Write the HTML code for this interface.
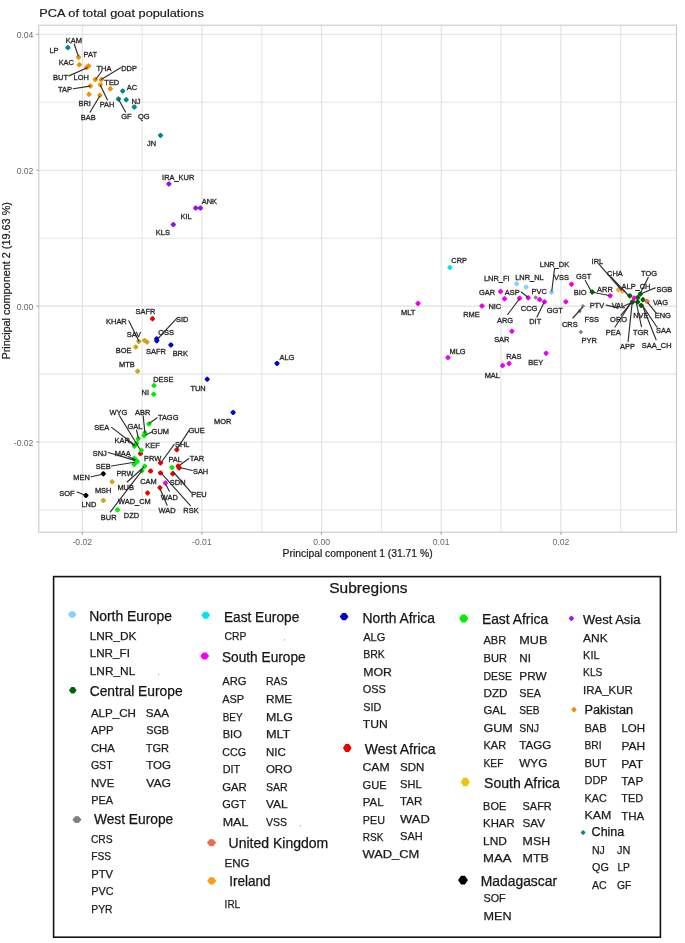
<!DOCTYPE html>
<html lang="en"><head><meta charset="utf-8"><title>PCA of total goat populations</title>
<style>html,body{margin:0;padding:0;background:#fff}body{width:685px;height:943px;overflow:hidden}svg{display:block;filter:blur(0.42px)}</style>
</head><body>
<svg width="685" height="943" viewBox="0 0 685 943">
<rect width="685" height="943" fill="#fff"/>
<g stroke="#e1e1e1" stroke-width="1.1" fill="none">
<path d="M142.1 25.2V532.2" stroke="#e6e6e6"/>
<path d="M261.8 25.2V532.2" stroke="#e6e6e6"/>
<path d="M381.4 25.2V532.2" stroke="#e6e6e6"/>
<path d="M501.0 25.2V532.2" stroke="#e6e6e6"/>
<path d="M620.7 25.2V532.2" stroke="#e6e6e6"/>
<path d="M38.8 510.0H676.5" stroke="#e6e6e6"/>
<path d="M38.8 374.1H676.5" stroke="#e6e6e6"/>
<path d="M38.8 238.2H676.5" stroke="#e6e6e6"/>
<path d="M38.8 102.3H676.5" stroke="#e6e6e6"/>
<path d="M82.3 25.2V532.2"/>
<path d="M201.9 25.2V532.2"/>
<path d="M321.6 25.2V532.2"/>
<path d="M441.2 25.2V532.2"/>
<path d="M560.9 25.2V532.2"/>
<path d="M38.8 442.0H676.5"/>
<path d="M38.8 306.1H676.5"/>
<path d="M38.8 170.2H676.5"/>
<path d="M38.8 34.3H676.5"/>
</g>
<rect x="38.8" y="25.2" width="637.7" height="507.00000000000006" fill="none" stroke="#c9c9c9" stroke-width="1.1"/>
<g stroke="#8a8a8a" stroke-width="0.8">
<path d="M82.3 532.2v2.6"/>
<path d="M201.9 532.2v2.6"/>
<path d="M321.6 532.2v2.6"/>
<path d="M441.2 532.2v2.6"/>
<path d="M560.9 532.2v2.6"/>
<path d="M38.8 442.0h-2.6"/>
<path d="M38.8 306.1h-2.6"/>
<path d="M38.8 170.2h-2.6"/>
<path d="M38.8 34.3h-2.6"/>
</g>
<g font-family="'Liberation Sans',sans-serif" font-size="8.6" fill="#666">
<text x="82.3" y="545.2" text-anchor="middle">-0.02</text>
<text x="201.9" y="545.2" text-anchor="middle">-0.01</text>
<text x="321.6" y="545.2" text-anchor="middle">0.00</text>
<text x="441.2" y="545.2" text-anchor="middle">0.01</text>
<text x="560.9" y="545.2" text-anchor="middle">0.02</text>
<text x="33.4" y="446.0" text-anchor="end">-0.02</text>
<text x="33.4" y="310.1" text-anchor="end">0.00</text>
<text x="33.4" y="174.2" text-anchor="end">0.02</text>
<text x="33.4" y="38.3" text-anchor="end">0.04</text>
</g>
<g font-family="'Liberation Sans',sans-serif" fill="#1a1a1a" stroke="#1a1a1a" stroke-width="0.2">
<text x="39.3" y="17.2" font-size="11.6" textLength="164.5" lengthAdjust="spacingAndGlyphs">PCA of total goat populations</text>
<text x="282.6" y="557.2" font-size="10" textLength="150" lengthAdjust="spacingAndGlyphs">Principal component 1 (31.71 %)</text>
<text transform="translate(9.6,359.6) rotate(-90)" font-size="10" textLength="157.5" lengthAdjust="spacingAndGlyphs">Principal component 2 (19.63 %)</text>
</g>
<g>
<path d="M66.45 47.6L67.9 46.15L69.35 47.6L67.9 49.05Z" fill="#00868B" stroke="#00868B" stroke-width="2.3" stroke-linejoin="round"/>
<path d="M121.25 91L122.7 89.55L124.15 91L122.7 92.45Z" fill="#00868B" stroke="#00868B" stroke-width="2.3" stroke-linejoin="round"/>
<path d="M124.75 99.7L126.2 98.25L127.65 99.7L126.2 101.15Z" fill="#00868B" stroke="#00868B" stroke-width="2.3" stroke-linejoin="round"/>
<path d="M117.05 98.9L118.5 97.45L119.95 98.9L118.5 100.35Z" fill="#00868B" stroke="#00868B" stroke-width="2.3" stroke-linejoin="round"/>
<path d="M132.85 107.1L134.3 105.65L135.75 107.1L134.3 108.55Z" fill="#00868B" stroke="#00868B" stroke-width="2.3" stroke-linejoin="round"/>
<path d="M159.05 135.4L160.5 133.95L161.95 135.4L160.5 136.85Z" fill="#00868B" stroke="#00868B" stroke-width="2.3" stroke-linejoin="round"/>
<path d="M77.15 57.2L78.6 55.75L80.05 57.2L78.6 58.65Z" fill="#F59000" stroke="#F59000" stroke-width="2.3" stroke-linejoin="round"/>
<path d="M77.85 64.7L79.3 63.25L80.75 64.7L79.3 66.15Z" fill="#F59000" stroke="#F59000" stroke-width="2.3" stroke-linejoin="round"/>
<path d="M85.15 67.6L86.6 66.15L88.05 67.6L86.6 69.05Z" fill="#F59000" stroke="#F59000" stroke-width="2.3" stroke-linejoin="round"/>
<path d="M87.15 65.9L88.6 64.45L90.05 65.9L88.6 67.35Z" fill="#F59000" stroke="#F59000" stroke-width="2.3" stroke-linejoin="round"/>
<path d="M93.75 79.6L95.2 78.15L96.65 79.6L95.2 81.05Z" fill="#F59000" stroke="#F59000" stroke-width="2.3" stroke-linejoin="round"/>
<path d="M99.85 79.6L101.3 78.15L102.75 79.6L101.3 81.05Z" fill="#F59000" stroke="#F59000" stroke-width="2.3" stroke-linejoin="round"/>
<path d="M98.95 84.8L100.4 83.35L101.85 84.8L100.4 86.25Z" fill="#F59000" stroke="#F59000" stroke-width="2.3" stroke-linejoin="round"/>
<path d="M108.95 88.7L110.4 87.25L111.85 88.7L110.4 90.15Z" fill="#F59000" stroke="#F59000" stroke-width="2.3" stroke-linejoin="round"/>
<path d="M88.95 86L90.4 84.55L91.85 86L90.4 87.45Z" fill="#F59000" stroke="#F59000" stroke-width="2.3" stroke-linejoin="round"/>
<path d="M87.55 94.3L89 92.85L90.45 94.3L89 95.75Z" fill="#F59000" stroke="#F59000" stroke-width="2.3" stroke-linejoin="round"/>
<path d="M98.45 95.3L99.9 93.85L101.35 95.3L99.9 96.75Z" fill="#F59000" stroke="#F59000" stroke-width="2.3" stroke-linejoin="round"/>
<path d="M167.45 183.9L168.9 182.45L170.35 183.9L168.9 185.35Z" fill="#8E14EE" stroke="#8E14EE" stroke-width="2.3" stroke-linejoin="round"/>
<path d="M194.25 208.1L195.7 206.65L197.15 208.1L195.7 209.55Z" fill="#8E14EE" stroke="#8E14EE" stroke-width="2.3" stroke-linejoin="round"/>
<path d="M198.95 208.1L200.4 206.65L201.85 208.1L200.4 209.55Z" fill="#8E14EE" stroke="#8E14EE" stroke-width="2.3" stroke-linejoin="round"/>
<path d="M171.85 224.6L173.3 223.15L174.75 224.6L173.3 226.05Z" fill="#8E14EE" stroke="#8E14EE" stroke-width="2.3" stroke-linejoin="round"/>
<path d="M151.05 318.7L152.5 317.25L153.95 318.7L152.5 320.15Z" fill="#EE0000" stroke="#EE0000" stroke-width="2.3" stroke-linejoin="round"/>
<path d="M137.35 341.4L138.8 339.95L140.25 341.4L138.8 342.85Z" fill="#CDA61A" stroke="#CDA61A" stroke-width="2.3" stroke-linejoin="round"/>
<path d="M143.15 340.6L144.6 339.15L146.05 340.6L144.6 342.05Z" fill="#CDA61A" stroke="#CDA61A" stroke-width="2.3" stroke-linejoin="round"/>
<path d="M145.55 342L147 340.55L148.45 342L147 343.45Z" fill="#CDA61A" stroke="#CDA61A" stroke-width="2.3" stroke-linejoin="round"/>
<path d="M134.35 347L135.8 345.55L137.25 347L135.8 348.45Z" fill="#CDA61A" stroke="#CDA61A" stroke-width="2.3" stroke-linejoin="round"/>
<path d="M136.15 371.2L137.6 369.75L139.05 371.2L137.6 372.65Z" fill="#CDA61A" stroke="#CDA61A" stroke-width="2.3" stroke-linejoin="round"/>
<path d="M110.65 481.7L112.1 480.25L113.55 481.7L112.1 483.15Z" fill="#CDA61A" stroke="#CDA61A" stroke-width="2.3" stroke-linejoin="round"/>
<path d="M101.95 500.4L103.4 498.95L104.85 500.4L103.4 501.85Z" fill="#CDA61A" stroke="#CDA61A" stroke-width="2.3" stroke-linejoin="round"/>
<path d="M155.25 338.8L156.7 337.35L158.15 338.8L156.7 340.25Z" fill="#0000CD" stroke="#0000CD" stroke-width="2.3" stroke-linejoin="round"/>
<path d="M155.35 340.8L156.8 339.35L158.25 340.8L156.8 342.25Z" fill="#0000CD" stroke="#0000CD" stroke-width="2.3" stroke-linejoin="round"/>
<path d="M169.45 344.9L170.9 343.45L172.35 344.9L170.9 346.35Z" fill="#0000CD" stroke="#0000CD" stroke-width="2.3" stroke-linejoin="round"/>
<path d="M275.55 363.4L277 361.95L278.45 363.4L277 364.85Z" fill="#0000CD" stroke="#0000CD" stroke-width="2.3" stroke-linejoin="round"/>
<path d="M205.75 379.2L207.2 377.75L208.65 379.2L207.2 380.65Z" fill="#0000CD" stroke="#0000CD" stroke-width="2.3" stroke-linejoin="round"/>
<path d="M231.65 412.4L233.1 410.95L234.55 412.4L233.1 413.85Z" fill="#0000CD" stroke="#0000CD" stroke-width="2.3" stroke-linejoin="round"/>
<path d="M152.55 385.6L154 384.15L155.45 385.6L154 387.05Z" fill="#00EE00" stroke="#00EE00" stroke-width="2.3" stroke-linejoin="round"/>
<path d="M152.25 394.3L153.7 392.85L155.15 394.3L153.7 395.75Z" fill="#00EE00" stroke="#00EE00" stroke-width="2.3" stroke-linejoin="round"/>
<path d="M147.55 423.9L149 422.45L150.45 423.9L149 425.35Z" fill="#00EE00" stroke="#00EE00" stroke-width="2.3" stroke-linejoin="round"/>
<path d="M143.45 432.7L144.9 431.25L146.35 432.7L144.9 434.15Z" fill="#00EE00" stroke="#00EE00" stroke-width="2.3" stroke-linejoin="round"/>
<path d="M142.65 435.6L144.1 434.15L145.55 435.6L144.1 437.05Z" fill="#00EE00" stroke="#00EE00" stroke-width="2.3" stroke-linejoin="round"/>
<path d="M136.85 438.8L138.3 437.35L139.75 438.8L138.3 440.25Z" fill="#00EE00" stroke="#00EE00" stroke-width="2.3" stroke-linejoin="round"/>
<path d="M135.05 443.2L136.5 441.75L137.95 443.2L136.5 444.65Z" fill="#00EE00" stroke="#00EE00" stroke-width="2.3" stroke-linejoin="round"/>
<path d="M132.95 446.2L134.4 444.75L135.85 446.2L134.4 447.65Z" fill="#00EE00" stroke="#00EE00" stroke-width="2.3" stroke-linejoin="round"/>
<path d="M139.05 453.6L140.5 452.15L141.95 453.6L140.5 455.05Z" fill="#EE0000" stroke="#EE0000" stroke-width="2.3" stroke-linejoin="round"/>
<path d="M139.85 450.4L141.3 448.95L142.75 450.4L141.3 451.85Z" fill="#00EE00" stroke="#00EE00" stroke-width="2.3" stroke-linejoin="round"/>
<path d="M132.75 458.4L134.2 456.95L135.65 458.4L134.2 459.85Z" fill="#00EE00" stroke="#00EE00" stroke-width="2.3" stroke-linejoin="round"/>
<path d="M135.85 461.5L137.3 460.05L138.75 461.5L137.3 462.95Z" fill="#00EE00" stroke="#00EE00" stroke-width="2.3" stroke-linejoin="round"/>
<path d="M132.75 464.4L134.2 462.95L135.65 464.4L134.2 465.85Z" fill="#00EE00" stroke="#00EE00" stroke-width="2.3" stroke-linejoin="round"/>
<path d="M134.35 460L135.8 458.55L137.25 460L135.8 461.45Z" fill="#00EE00" stroke="#00EE00" stroke-width="2.3" stroke-linejoin="round"/>
<path d="M143.25 466.2L144.7 464.75L146.15 466.2L144.7 467.65Z" fill="#00EE00" stroke="#00EE00" stroke-width="2.3" stroke-linejoin="round"/>
<path d="M140.65 470.5L142.1 469.05L143.55 470.5L142.1 471.95Z" fill="#00EE00" stroke="#00EE00" stroke-width="2.3" stroke-linejoin="round"/>
<path d="M116.05 509.7L117.5 508.25L118.95 509.7L117.5 511.15Z" fill="#00EE00" stroke="#00EE00" stroke-width="2.3" stroke-linejoin="round"/>
<path d="M175.35 449.7L176.8 448.25L178.25 449.7L176.8 451.15Z" fill="#EE0000" stroke="#EE0000" stroke-width="2.3" stroke-linejoin="round"/>
<path d="M159.05 462.9L160.5 461.45L161.95 462.9L160.5 464.35Z" fill="#EE0000" stroke="#EE0000" stroke-width="2.3" stroke-linejoin="round"/>
<path d="M149.15 471.1L150.6 469.65L152.05 471.1L150.6 472.55Z" fill="#EE0000" stroke="#EE0000" stroke-width="2.3" stroke-linejoin="round"/>
<path d="M159.05 472.9L160.5 471.45L161.95 472.9L160.5 474.35Z" fill="#EE0000" stroke="#EE0000" stroke-width="2.3" stroke-linejoin="round"/>
<path d="M171.25 473.7L172.7 472.25L174.15 473.7L172.7 475.15Z" fill="#EE0000" stroke="#EE0000" stroke-width="2.3" stroke-linejoin="round"/>
<path d="M176.75 466.1L178.2 464.65L179.65 466.1L178.2 467.55Z" fill="#EE0000" stroke="#EE0000" stroke-width="2.3" stroke-linejoin="round"/>
<path d="M177.65 467.9L179.1 466.45L180.55 467.9L179.1 469.35Z" fill="#EE0000" stroke="#EE0000" stroke-width="2.3" stroke-linejoin="round"/>
<path d="M158.45 487.7L159.9 486.25L161.35 487.7L159.9 489.15Z" fill="#EE0000" stroke="#EE0000" stroke-width="2.3" stroke-linejoin="round"/>
<path d="M146.15 493L147.6 491.55L149.05 493L147.6 494.45Z" fill="#EE0000" stroke="#EE0000" stroke-width="2.3" stroke-linejoin="round"/>
<path d="M170.55 467.4L172 465.95L173.45 467.4L172 468.85Z" fill="#00EE00" stroke="#00EE00" stroke-width="2.3" stroke-linejoin="round"/>
<path d="M163.95 483L165.4 481.55L166.85 483L165.4 484.45Z" fill="#F000F0" stroke="#F000F0" stroke-width="2.3" stroke-linejoin="round"/>
<path d="M101.85 473.8L103.3 472.35L104.75 473.8L103.3 475.25Z" fill="#000000" stroke="#000000" stroke-width="2.3" stroke-linejoin="round"/>
<path d="M84.45 495.4L85.9 493.95L87.35 495.4L85.9 496.85Z" fill="#000000" stroke="#000000" stroke-width="2.3" stroke-linejoin="round"/>
<path d="M448.45 267.5L449.9 266.05L451.35 267.5L449.9 268.95Z" fill="#00E5EE" stroke="#00E5EE" stroke-width="2.3" stroke-linejoin="round"/>
<path d="M416.55 303.4L418 301.95L419.45 303.4L418 304.85Z" fill="#F000F0" stroke="#F000F0" stroke-width="2.3" stroke-linejoin="round"/>
<path d="M499.15 291.5L500.6 290.05L502.05 291.5L500.6 292.95Z" fill="#F000F0" stroke="#F000F0" stroke-width="2.3" stroke-linejoin="round"/>
<path d="M503.05 298.7L504.5 297.25L505.95 298.7L504.5 300.15Z" fill="#F000F0" stroke="#F000F0" stroke-width="2.3" stroke-linejoin="round"/>
<path d="M480.55 305.9L482 304.45L483.45 305.9L482 307.35Z" fill="#F000F0" stroke="#F000F0" stroke-width="2.3" stroke-linejoin="round"/>
<path d="M518.05 298.3L519.5 296.85L520.95 298.3L519.5 299.75Z" fill="#F000F0" stroke="#F000F0" stroke-width="2.3" stroke-linejoin="round"/>
<path d="M526.75 297.8L528.2 296.35L529.65 297.8L528.2 299.25Z" fill="#F000F0" stroke="#F000F0" stroke-width="2.3" stroke-linejoin="round"/>
<path d="M538.15 299.6L539.6 298.15L541.05 299.6L539.6 301.05Z" fill="#F000F0" stroke="#F000F0" stroke-width="2.3" stroke-linejoin="round"/>
<path d="M543.05 301.8L544.5 300.35L545.95 301.8L544.5 303.25Z" fill="#F000F0" stroke="#F000F0" stroke-width="2.3" stroke-linejoin="round"/>
<path d="M564.35 301.8L565.8 300.35L567.25 301.8L565.8 303.25Z" fill="#F000F0" stroke="#F000F0" stroke-width="2.3" stroke-linejoin="round"/>
<path d="M570.05 284.3L571.5 282.85L572.95 284.3L571.5 285.75Z" fill="#F000F0" stroke="#F000F0" stroke-width="2.3" stroke-linejoin="round"/>
<path d="M510.45 331.2L511.9 329.75L513.35 331.2L511.9 332.65Z" fill="#F000F0" stroke="#F000F0" stroke-width="2.3" stroke-linejoin="round"/>
<path d="M446.55 357.6L448 356.15L449.45 357.6L448 359.05Z" fill="#F000F0" stroke="#F000F0" stroke-width="2.3" stroke-linejoin="round"/>
<path d="M507.65 363.5L509.1 362.05L510.55 363.5L509.1 364.95Z" fill="#F000F0" stroke="#F000F0" stroke-width="2.3" stroke-linejoin="round"/>
<path d="M501.15 365.6L502.6 364.15L504.05 365.6L502.6 367.05Z" fill="#F000F0" stroke="#F000F0" stroke-width="2.3" stroke-linejoin="round"/>
<path d="M544.65 353.3L546.1 351.85L547.55 353.3L546.1 354.75Z" fill="#F000F0" stroke="#F000F0" stroke-width="2.3" stroke-linejoin="round"/>
<path d="M608.75 295.8L610.2 294.35L611.65 295.8L610.2 297.25Z" fill="#F000F0" stroke="#F000F0" stroke-width="2.3" stroke-linejoin="round"/>
<path d="M515.15 283.8L516.6 282.35L518.05 283.8L516.6 285.25Z" fill="#87CEFA" stroke="#87CEFA" stroke-width="2.3" stroke-linejoin="round"/>
<path d="M524.65 287L526.1 285.55L527.55 287L526.1 288.45Z" fill="#87CEFA" stroke="#87CEFA" stroke-width="2.3" stroke-linejoin="round"/>
<path d="M550.05 292.2L551.5 290.75L552.95 292.2L551.5 293.65Z" fill="#87CEFA" stroke="#87CEFA" stroke-width="2.3" stroke-linejoin="round"/>
<path d="M534.70 297.5L535.7 296.50L536.70 297.5L535.7 298.50Z" fill="#7F7F7F" stroke="#7F7F7F" stroke-width="1.8" stroke-linejoin="round"/>
<path d="M581.90 306.2L582.9 305.20L583.90 306.2L582.9 307.20Z" fill="#7F7F7F" stroke="#7F7F7F" stroke-width="1.8" stroke-linejoin="round"/>
<path d="M578.70 311.2L579.7 310.20L580.70 311.2L579.7 312.20Z" fill="#7F7F7F" stroke="#7F7F7F" stroke-width="1.8" stroke-linejoin="round"/>
<path d="M579.90 332L580.9 331.00L581.90 332L580.9 333.00Z" fill="#7F7F7F" stroke="#7F7F7F" stroke-width="1.8" stroke-linejoin="round"/>
<path d="M616.60 307.3L617.6 306.30L618.60 307.3L617.6 308.30Z" fill="#7F7F7F" stroke="#7F7F7F" stroke-width="1.8" stroke-linejoin="round"/>
<path d="M616.95 289.7L618.4 288.25L619.85 289.7L618.4 291.15Z" fill="#FFA245" stroke="#FFA245" stroke-width="2.3" stroke-linejoin="round"/>
<path d="M621.05 290.9L622.5 289.45L623.95 290.9L622.5 292.35Z" fill="#FFA245" stroke="#FFA245" stroke-width="2.3" stroke-linejoin="round"/>
<path d="M590.75 292L592.2 290.55L593.65 292L592.2 293.45Z" fill="#006400" stroke="#006400" stroke-width="2.3" stroke-linejoin="round"/>
<path d="M628.35 295.8L629.8 294.35L631.25 295.8L629.8 297.25Z" fill="#006400" stroke="#006400" stroke-width="2.3" stroke-linejoin="round"/>
<path d="M638.85 294.1L640.3 292.65L641.75 294.1L640.3 295.55Z" fill="#006400" stroke="#006400" stroke-width="2.3" stroke-linejoin="round"/>
<path d="M636.25 297.6L637.7 296.15L639.15 297.6L637.7 299.05Z" fill="#006400" stroke="#006400" stroke-width="2.3" stroke-linejoin="round"/>
<path d="M641.55 299.7L643 298.25L644.45 299.7L643 301.15Z" fill="#006400" stroke="#006400" stroke-width="2.3" stroke-linejoin="round"/>
<path d="M636.25 301.9L637.7 300.45L639.15 301.9L637.7 303.35Z" fill="#006400" stroke="#006400" stroke-width="2.3" stroke-linejoin="round"/>
<path d="M639.75 305.4L641.2 303.95L642.65 305.4L641.2 306.85Z" fill="#006400" stroke="#006400" stroke-width="2.3" stroke-linejoin="round"/>
<path d="M631.05 301.9L632.5 300.45L633.95 301.9L632.5 303.35Z" fill="#006400" stroke="#006400" stroke-width="2.3" stroke-linejoin="round"/>
<path d="M632.75 298.1L634.2 296.65L635.65 298.1L634.2 299.55Z" fill="#F000F0" stroke="#F000F0" stroke-width="2.3" stroke-linejoin="round"/>
<path d="M645.55 301.4L647 299.95L648.45 301.4L647 302.85Z" fill="#EE6A50" stroke="#EE6A50" stroke-width="2.3" stroke-linejoin="round"/>
</g>
<g stroke="#2e2e2e" stroke-width="1.15" stroke-linecap="round">
<path d="M74.2 44L78.3 56"/>
<path d="M68.9 75.9L87.3 67.7"/>
<path d="M101.5 71.5L96 79"/>
<path d="M120.6 67.7L101.6 79.2"/>
<path d="M73.3 88.7L89.9 86.1"/>
<path d="M90 112.3L99.6 96.2"/>
<path d="M107.4 100L100.5 85.4"/>
<path d="M125.5 112L118.7 99.4"/>
<path d="M128.8 320.8L138.8 340.9"/>
<path d="M176.5 318.7L158 338.5"/>
<path d="M157.2 417.8L149.7 423"/>
<path d="M143.2 416L144.9 432.5"/>
<path d="M119.5 415.7L139.5 448.5"/>
<path d="M136.5 430L138.4 438"/>
<path d="M152.5 431.8L145.5 435"/>
<path d="M111.6 427.4L134.9 445.2"/>
<path d="M128.3 440.9L134.4 445.8"/>
<path d="M108.4 452.5L134.6 460.4"/>
<path d="M128 456.5L135 459.8"/>
<path d="M111.3 466L134.6 462.2"/>
<path d="M174.2 444.4L161.5 462"/>
<path d="M188.7 430.9L177.2 448.8"/>
<path d="M188.9 458.5L180.3 464.8"/>
<path d="M192.2 470.5L180.8 467.7"/>
<path d="M91.2 476.8L102.6 474.2"/>
<path d="M77.2 492L85 495.2"/>
<path d="M127.1 482L143.7 467.2"/>
<path d="M110.4 511.8L142 470.7"/>
<path d="M191.3 492.6L172.9 471.5"/>
<path d="M190.4 505.7L161.5 473.3"/>
<path d="M165.9 484.7L169.4 491.2"/>
<path d="M167.1 505.2L160.1 489"/>
<path d="M507.7 314.5L519.3 299"/>
<path d="M554.5 268.9L551.8 291"/>
<path d="M585.3 280.4L591 291"/>
<path d="M521.2 292L527.5 297"/>
<path d="M536.9 317.1L543.9 302.7"/>
<path d="M572.9 318L582.3 307.5"/>
<path d="M599.2 264.3L621.5 290"/>
<path d="M611 277L628.5 295.5"/>
<path d="M648.2 277.4L640.3 293.2"/>
<path d="M655.2 287.9L642.1 293.2"/>
<path d="M593 292.3L609 295.5"/>
<path d="M656 312.8L648 302.8"/>
<path d="M606.2 305.1L617.3 307.6"/>
<path d="M622.8 306.5L631.8 302.5"/>
<path d="M621.1 315.1L631 302.8"/>
<path d="M615 327L631.6 302"/>
<path d="M641.5 326.6L636 301.5"/>
<path d="M657 327.3L642 304.8"/>
<path d="M628.1 341.5L632.1 303.1"/>
<path d="M656.1 339.8L643 307"/>
</g>
<g font-family="'Liberation Sans',sans-serif" font-size="7.45" fill="#262626" text-anchor="middle" stroke="#262626" stroke-width="0.3">
<text x="54" y="52.5">LP</text>
<text x="73.8" y="43.2">KAM</text>
<text x="90.3" y="57.2">PAT</text>
<text x="66.3" y="65.1">KAC</text>
<text x="60.5" y="79.7">BUT</text>
<text x="81.2" y="79.7">LOH</text>
<text x="104" y="70.9">THA</text>
<text x="129" y="70.9">DDP</text>
<text x="111.8" y="84.7">TED</text>
<text x="65" y="91.9">TAP</text>
<text x="84.7" y="106.3">BRI</text>
<text x="88.2" y="119.7">BAB</text>
<text x="107" y="107.2">PAH</text>
<text x="132" y="90.0">AC</text>
<text x="136" y="103.7">NJ</text>
<text x="126.4" y="119.4">GF</text>
<text x="143.7" y="118.5">QG</text>
<text x="151.5" y="145.8">JN</text>
<text x="178.2" y="180.0">IRA_KUR</text>
<text x="209.4" y="204.2">ANK</text>
<text x="186.1" y="219.4">KIL</text>
<text x="162.9" y="235.3">KLS</text>
<text x="145.5" y="314.3">SAFR</text>
<text x="116.4" y="323.5">KHAR</text>
<text x="182.2" y="321.7">SID</text>
<text x="133.9" y="336.8">SAV</text>
<text x="166" y="334.5">OSS</text>
<text x="180.3" y="355.9">BRK</text>
<text x="123.6" y="353.2">BOE</text>
<text x="156" y="353.8">SAFR</text>
<text x="126.9" y="367.4">MTB</text>
<text x="163.3" y="381.8">DESE</text>
<text x="198.1" y="391.0">TUN</text>
<text x="145.3" y="394.6">NI</text>
<text x="286.9" y="359.6">ALG</text>
<text x="222.8" y="423.6">MOR</text>
<text x="168.2" y="419.6">TAGG</text>
<text x="142.7" y="414.7">ABR</text>
<text x="118.3" y="415.2">WYG</text>
<text x="134.9" y="429.2">GAL</text>
<text x="160.3" y="434.1">GUM</text>
<text x="101.7" y="430.1">SEA</text>
<text x="122.2" y="443.3">KAR</text>
<text x="152.5" y="448.1">KEF</text>
<text x="99.8" y="455.5">SNJ</text>
<text x="122.7" y="456.4">MAA</text>
<text x="103.2" y="469.3">SEB</text>
<text x="152.6" y="461.4">PRW</text>
<text x="125" y="475.6">PRW</text>
<text x="182.2" y="446.7">SHL</text>
<text x="196.6" y="433.3">GUE</text>
<text x="175.2" y="461.9">PAL</text>
<text x="197" y="460.5">TAR</text>
<text x="200.6" y="473.7">SAH</text>
<text x="177.7" y="484.5">SDN</text>
<text x="148.4" y="484.2">CAM</text>
<text x="125.7" y="489.7">MUB</text>
<text x="81.5" y="480.0">MEN</text>
<text x="67" y="495.6">SOF</text>
<text x="103.2" y="493.4">MSH</text>
<text x="88.9" y="507.2">LND</text>
<text x="108.7" y="520.3">BUR</text>
<text x="131.5" y="518.0">DZD</text>
<text x="134.4" y="503.5">WAD_CM</text>
<text x="198.9" y="497.4">PEU</text>
<text x="191" y="512.8">RSK</text>
<text x="169.4" y="499.6">WAD</text>
<text x="167.1" y="513.3">WAD</text>
<text x="459.2" y="262.5">CRP</text>
<text x="408.2" y="314.5">MLT</text>
<text x="496.7" y="281.2">LNR_FI</text>
<text x="487" y="294.7">GAR</text>
<text x="512.2" y="294.7">ASP</text>
<text x="494.8" y="308.9">NIC</text>
<text x="471.4" y="316.8">RME</text>
<text x="505" y="323.2">ARG</text>
<text x="501.8" y="342.2">SAR</text>
<text x="554.5" y="267.2">LNR_DK</text>
<text x="529.4" y="280.0">LNR_NL</text>
<text x="561.5" y="280.4">VSS</text>
<text x="583.7" y="278.7">GST</text>
<text x="539.2" y="293.5">PVC</text>
<text x="580.2" y="294.7">BIO</text>
<text x="529.1" y="310.5">CCG</text>
<text x="554.8" y="313.3">GGT</text>
<text x="535.2" y="324.4">DIT</text>
<text x="569.8" y="326.7">CRS</text>
<text x="596.9" y="308.1">PTV</text>
<text x="591.8" y="321.8">FSS</text>
<text x="589.2" y="343.0">PYR</text>
<text x="457.6" y="353.6">MLG</text>
<text x="513.8" y="359.3">RAS</text>
<text x="492.3" y="377.5">MAL</text>
<text x="535.7" y="364.8">BEY</text>
<text x="597.4" y="263.8">IRL</text>
<text x="614.9" y="276.1">CHA</text>
<text x="649.1" y="276.1">TOG</text>
<text x="636" y="289.1">ALP_CH</text>
<text x="664.3" y="291.5">SGB</text>
<text x="604.9" y="292.0">ARR</text>
<text x="660.5" y="304.6">VAG</text>
<text x="662.8" y="318.4">ENG</text>
<text x="618.4" y="307.8">VAL</text>
<text x="618.6" y="321.5">ORO</text>
<text x="613.2" y="335.1">PEA</text>
<text x="640.8" y="317.5">NVE</text>
<text x="640.8" y="334.6">TGR</text>
<text x="663.5" y="332.7">SAA</text>
<text x="627.5" y="348.9">APP</text>
<text x="656.7" y="347.5">SAA_CH</text>
</g>
<rect x="53.6" y="576.6" width="606.8" height="360.6" fill="#fff" stroke="#141414" stroke-width="1.6"/>
<g font-family="'Liberation Sans',sans-serif" fill="#151515">
<text x="329.3" y="593.4" font-size="15.2" textLength="78.3" lengthAdjust="spacingAndGlyphs" stroke="#151515" stroke-width="0.25">Subregions</text>
<path d="M68.90 614.5L71.01 611.90H73.59L75.70 614.5L73.59 617.10H71.01Z" fill="#87CEFA" stroke="#87CEFA" stroke-width="1.2" stroke-linejoin="round"/>
<text x="89.2" y="621.2" font-size="13.9" textLength="82.7" lengthAdjust="spacingAndGlyphs" stroke="#151515" stroke-width="0.25">North Europe</text>
<path d="M69.70 690.3L71.62 687.60H73.98L75.90 690.3L73.98 693.00H71.62Z" fill="#006400" stroke="#006400" stroke-width="1.2" stroke-linejoin="round"/>
<text x="89.7" y="695.6" font-size="13.9" textLength="93" lengthAdjust="spacingAndGlyphs" stroke="#151515" stroke-width="0.25">Central Europe</text>
<path d="M73.10 819.6L75.46 816.80H78.34L80.70 819.6L78.34 822.40H75.46Z" fill="#808080" stroke="#808080" stroke-width="1.2" stroke-linejoin="round"/>
<text x="93.9" y="824.2" font-size="13.9" textLength="79.4" lengthAdjust="spacingAndGlyphs" stroke="#151515" stroke-width="0.25">West Europe</text>
<path d="M202.00 615.2L204.29 612.30H207.11L209.40 615.2L207.11 618.10H204.29Z" fill="#00E5EE" stroke="#00E5EE" stroke-width="1.2" stroke-linejoin="round"/>
<text x="223.9" y="621.5" font-size="13.9" textLength="75.4" lengthAdjust="spacingAndGlyphs" stroke="#151515" stroke-width="0.25">East Europe</text>
<path d="M201.00 656.1L203.29 653.20H206.11L208.40 656.1L206.11 659.00H203.29Z" fill="#F200F2" stroke="#F200F2" stroke-width="1.2" stroke-linejoin="round"/>
<text x="222" y="661.9" font-size="13.9" textLength="83.6" lengthAdjust="spacingAndGlyphs" stroke="#151515" stroke-width="0.25">South Europe</text>
<path d="M207.60 842.7L210.02 839.80H212.98L215.40 842.7L212.98 845.60H210.02Z" fill="#EE6A50" stroke="#EE6A50" stroke-width="1.2" stroke-linejoin="round"/>
<text x="228.5" y="847.6" font-size="13.9" textLength="99.8" lengthAdjust="spacingAndGlyphs" stroke="#151515" stroke-width="0.25">United Kingdom</text>
<path d="M207.90 880.8L210.26 877.80H213.14L215.50 880.8L213.14 883.80H210.26Z" fill="#FF9A12" stroke="#FF9A12" stroke-width="1.2" stroke-linejoin="round"/>
<text x="229.2" y="886.2" font-size="13.9" textLength="41.4" lengthAdjust="spacingAndGlyphs" stroke="#151515" stroke-width="0.25">Ireland</text>
<path d="M340.40 616.7L342.69 613.70H345.51L347.80 616.7L345.51 619.70H342.69Z" fill="#0000CD" stroke="#0000CD" stroke-width="1.2" stroke-linejoin="round"/>
<text x="362.5" y="622.6" font-size="13.9" textLength="72.4" lengthAdjust="spacingAndGlyphs" stroke="#151515" stroke-width="0.25">North Africa</text>
<path d="M343.60 748L345.89 744.60H348.71L351.00 748L348.71 751.40H345.89Z" fill="#EE0000" stroke="#EE0000" stroke-width="1.2" stroke-linejoin="round"/>
<text x="364.8" y="753.9" font-size="13.9" textLength="70.8" lengthAdjust="spacingAndGlyphs" stroke="#151515" stroke-width="0.25">West Africa</text>
<path d="M459.80 618.5L462.22 615.00H465.18L467.60 618.5L465.18 622.00H462.22Z" fill="#00EE00" stroke="#00EE00" stroke-width="1.2" stroke-linejoin="round"/>
<text x="481.9" y="623.9" font-size="13.9" textLength="66.3" lengthAdjust="spacingAndGlyphs" stroke="#151515" stroke-width="0.25">East Africa</text>
<path d="M461.40 782L463.82 778.30H466.78L469.20 782L466.78 785.70H463.82Z" fill="#EEC40E" stroke="#EEC40E" stroke-width="1.2" stroke-linejoin="round"/>
<text x="484" y="787.9" font-size="13.9" textLength="75.9" lengthAdjust="spacingAndGlyphs" stroke="#151515" stroke-width="0.25">South Africa</text>
<path d="M458.80 880.2L461.40 876.40H464.60L467.20 880.2L464.60 884.00H461.40Z" fill="#000000" stroke="#000000" stroke-width="1.2" stroke-linejoin="round"/>
<text x="480.7" y="886" font-size="13.9" textLength="76.4" lengthAdjust="spacingAndGlyphs" stroke="#151515" stroke-width="0.25">Madagascar</text>
<path d="M569.80 618.4L571.4 616.80L573.00 618.4L571.4 620.00Z" fill="#9A1CF0" stroke="#9A1CF0" stroke-width="2" stroke-linejoin="round"/>
<text x="583.1" y="624.2" font-size="12.0" textLength="57.3" lengthAdjust="spacingAndGlyphs" stroke="#151515" stroke-width="0.25">West Asia</text>
<path d="M572.40 709.6L574 708.00L575.60 709.6L574 711.20Z" fill="#F28C0A" stroke="#F28C0A" stroke-width="2" stroke-linejoin="round"/>
<text x="584.4" y="714.3" font-size="12.0" textLength="48.8" lengthAdjust="spacingAndGlyphs" stroke="#151515" stroke-width="0.25">Pakistan</text>
<path d="M581.80 832.6L583.1 831.30L584.40 832.6L583.1 833.90Z" fill="#00868B" stroke="#00868B" stroke-width="2" stroke-linejoin="round"/>
<text x="591.6" y="836.1" font-size="12.0" textLength="32.7" lengthAdjust="spacingAndGlyphs" stroke="#151515" stroke-width="0.25">China</text>
</g>
<g font-family="'Liberation Sans',sans-serif" font-size="11.4" fill="#1b1b1b" stroke="#1b1b1b" stroke-width="0.25">
<text x="89.7" y="639.8" textLength="46.7" lengthAdjust="spacingAndGlyphs">LNR_DK</text>
<text x="89.7" y="657.2" textLength="40.2" lengthAdjust="spacingAndGlyphs">LNR_FI</text>
<text x="89.7" y="674.7" textLength="45.6" lengthAdjust="spacingAndGlyphs">LNR_NL</text>
<text x="90.9" y="716.8" textLength="45.1" lengthAdjust="spacingAndGlyphs">ALP_CH</text>
<text x="145.8" y="716.8" textLength="23.3" lengthAdjust="spacingAndGlyphs">SAA</text>
<text x="90.9" y="734.2" textLength="22.6" lengthAdjust="spacingAndGlyphs">APP</text>
<text x="146.2" y="734.2" textLength="22.9" lengthAdjust="spacingAndGlyphs">SGB</text>
<text x="90.9" y="751.7" textLength="24.0" lengthAdjust="spacingAndGlyphs">CHA</text>
<text x="145.8" y="751.7" textLength="23.3" lengthAdjust="spacingAndGlyphs">TGR</text>
<text x="90.9" y="769.3" textLength="21.7" lengthAdjust="spacingAndGlyphs">GST</text>
<text x="146.2" y="769.3" textLength="24.8" lengthAdjust="spacingAndGlyphs">TOG</text>
<text x="90.9" y="786.9" textLength="23.3" lengthAdjust="spacingAndGlyphs">NVE</text>
<text x="146.2" y="786.9" textLength="24.8" lengthAdjust="spacingAndGlyphs">VAG</text>
<text x="91.3" y="804.4" textLength="21.8" lengthAdjust="spacingAndGlyphs">PEA</text>
<text x="90.9" y="842.5" textLength="21.7" lengthAdjust="spacingAndGlyphs">CRS</text>
<text x="91.3" y="860" textLength="19.9" lengthAdjust="spacingAndGlyphs">FSS</text>
<text x="91.3" y="877.5" textLength="21.8" lengthAdjust="spacingAndGlyphs">PTV</text>
<text x="91.3" y="895" textLength="22.2" lengthAdjust="spacingAndGlyphs">PVC</text>
<text x="91.3" y="912.5" textLength="21.3" lengthAdjust="spacingAndGlyphs">PYR</text>
<text x="224.6" y="639.8" textLength="21.9" lengthAdjust="spacingAndGlyphs">CRP</text>
<text x="222.2" y="685.4" textLength="24.3" lengthAdjust="spacingAndGlyphs">ARG</text>
<text x="265.9" y="685.4" textLength="21.7" lengthAdjust="spacingAndGlyphs">RAS</text>
<text x="222.2" y="703.3" textLength="22.0" lengthAdjust="spacingAndGlyphs">ASP</text>
<text x="265.9" y="703.3" textLength="26.2" lengthAdjust="spacingAndGlyphs">RME</text>
<text x="222.7" y="720.8" textLength="19.9" lengthAdjust="spacingAndGlyphs">BEY</text>
<text x="265.9" y="720.8" textLength="26.9" lengthAdjust="spacingAndGlyphs">MLG</text>
<text x="222.7" y="738.3" textLength="19.2" lengthAdjust="spacingAndGlyphs">BIO</text>
<text x="265.9" y="738.3" textLength="24.5" lengthAdjust="spacingAndGlyphs">MLT</text>
<text x="222.2" y="755.7" textLength="23.9" lengthAdjust="spacingAndGlyphs">CCG</text>
<text x="265.9" y="755.7" textLength="19.9" lengthAdjust="spacingAndGlyphs">NIC</text>
<text x="222.7" y="773.4" textLength="17.5" lengthAdjust="spacingAndGlyphs">DIT</text>
<text x="265.9" y="773.4" textLength="26.2" lengthAdjust="spacingAndGlyphs">ORO</text>
<text x="222.2" y="790.9" textLength="24.6" lengthAdjust="spacingAndGlyphs">GAR</text>
<text x="265.9" y="790.9" textLength="21.7" lengthAdjust="spacingAndGlyphs">SAR</text>
<text x="222.2" y="808.4" textLength="23.9" lengthAdjust="spacingAndGlyphs">GGT</text>
<text x="265.9" y="808.4" textLength="21.7" lengthAdjust="spacingAndGlyphs">VAL</text>
<text x="222.7" y="825.9" textLength="25.7" lengthAdjust="spacingAndGlyphs">MAL</text>
<text x="265.9" y="825.9" textLength="21.0" lengthAdjust="spacingAndGlyphs">VSS</text>
<text x="224.6" y="866.8" textLength="25.0" lengthAdjust="spacingAndGlyphs">ENG</text>
<text x="224.6" y="907.7" textLength="15.6" lengthAdjust="spacingAndGlyphs">IRL</text>
<text x="363.2" y="640.8" textLength="22.2" lengthAdjust="spacingAndGlyphs">ALG</text>
<text x="363.2" y="658.3" textLength="21.7" lengthAdjust="spacingAndGlyphs">BRK</text>
<text x="363.2" y="675.8" textLength="28.7" lengthAdjust="spacingAndGlyphs">MOR</text>
<text x="362.8" y="693.2" textLength="23.1" lengthAdjust="spacingAndGlyphs">OSS</text>
<text x="363.2" y="710.9" textLength="18.0" lengthAdjust="spacingAndGlyphs">SID</text>
<text x="362.8" y="728.2" textLength="24.9" lengthAdjust="spacingAndGlyphs">TUN</text>
<text x="362.5" y="771.4" textLength="27.1" lengthAdjust="spacingAndGlyphs">CAM</text>
<text x="400.1" y="770.7" textLength="24.3" lengthAdjust="spacingAndGlyphs">SDN</text>
<text x="362.5" y="788.9" textLength="24.1" lengthAdjust="spacingAndGlyphs">GUE</text>
<text x="400.1" y="787.8" textLength="21.5" lengthAdjust="spacingAndGlyphs">SHL</text>
<text x="362.8" y="806.4" textLength="20.7" lengthAdjust="spacingAndGlyphs">PAL</text>
<text x="400.1" y="805.3" textLength="22.2" lengthAdjust="spacingAndGlyphs">TAR</text>
<text x="362.8" y="823.6" textLength="22.1" lengthAdjust="spacingAndGlyphs">PEU</text>
<text x="400.1" y="823.2" textLength="29.7" lengthAdjust="spacingAndGlyphs">WAD</text>
<text x="362.8" y="841" textLength="20.7" lengthAdjust="spacingAndGlyphs">RSK</text>
<text x="400.1" y="840.3" textLength="22.7" lengthAdjust="spacingAndGlyphs">SAH</text>
<text x="362.5" y="858.3" textLength="56.8" lengthAdjust="spacingAndGlyphs">WAD_CM</text>
<text x="483.5" y="644.2" textLength="22.7" lengthAdjust="spacingAndGlyphs">ABR</text>
<text x="519.3" y="644.2" textLength="28.0" lengthAdjust="spacingAndGlyphs">MUB</text>
<text x="483.5" y="661.7" textLength="23.4" lengthAdjust="spacingAndGlyphs">BUR</text>
<text x="519.3" y="661.7" textLength="11.7" lengthAdjust="spacingAndGlyphs">NI</text>
<text x="483.5" y="679.5" textLength="28.5" lengthAdjust="spacingAndGlyphs">DESE</text>
<text x="519.3" y="679.5" textLength="27.3" lengthAdjust="spacingAndGlyphs">PRW</text>
<text x="483.5" y="697" textLength="24.1" lengthAdjust="spacingAndGlyphs">DZD</text>
<text x="519.3" y="697" textLength="21.5" lengthAdjust="spacingAndGlyphs">SEA</text>
<text x="483.5" y="714.3" textLength="22.7" lengthAdjust="spacingAndGlyphs">GAL</text>
<text x="519.3" y="714.3" textLength="20.3" lengthAdjust="spacingAndGlyphs">SEB</text>
<text x="483.5" y="731.8" textLength="29.2" lengthAdjust="spacingAndGlyphs">GUM</text>
<text x="519.3" y="731.8" textLength="19.8" lengthAdjust="spacingAndGlyphs">SNJ</text>
<text x="483.5" y="749.3" textLength="22.7" lengthAdjust="spacingAndGlyphs">KAR</text>
<text x="519.3" y="749.3" textLength="32.0" lengthAdjust="spacingAndGlyphs">TAGG</text>
<text x="483.5" y="766.9" textLength="19.9" lengthAdjust="spacingAndGlyphs">KEF</text>
<text x="519.3" y="766.9" textLength="28.0" lengthAdjust="spacingAndGlyphs">WYG</text>
<text x="483.1" y="809.6" textLength="23.1" lengthAdjust="spacingAndGlyphs">BOE</text>
<text x="522.6" y="809.6" textLength="29.1" lengthAdjust="spacingAndGlyphs">SAFR</text>
<text x="483.1" y="827.1" textLength="31.5" lengthAdjust="spacingAndGlyphs">KHAR</text>
<text x="522.6" y="827.1" textLength="22.4" lengthAdjust="spacingAndGlyphs">SAV</text>
<text x="483.1" y="844.6" textLength="23.8" lengthAdjust="spacingAndGlyphs">LND</text>
<text x="522.6" y="844.6" textLength="27.5" lengthAdjust="spacingAndGlyphs">MSH</text>
<text x="483.1" y="862.2" textLength="28.5" lengthAdjust="spacingAndGlyphs">MAA</text>
<text x="522.6" y="862.2" textLength="26.3" lengthAdjust="spacingAndGlyphs">MTB</text>
<text x="483.5" y="902.3" textLength="22.2" lengthAdjust="spacingAndGlyphs">SOF</text>
<text x="483.5" y="919.9" textLength="28.1" lengthAdjust="spacingAndGlyphs">MEN</text>
<text x="583.1" y="641.7" textLength="24.7" lengthAdjust="spacingAndGlyphs">ANK</text>
<text x="583.1" y="659.1" textLength="16.5" lengthAdjust="spacingAndGlyphs">KIL</text>
<text x="583.1" y="676.4" textLength="19.3" lengthAdjust="spacingAndGlyphs">KLS</text>
<text x="583.1" y="694" textLength="49.7" lengthAdjust="spacingAndGlyphs">IRA_KUR</text>
<text x="584.4" y="731.6" textLength="22.2" lengthAdjust="spacingAndGlyphs">BAB</text>
<text x="621.4" y="732.3" textLength="23.7" lengthAdjust="spacingAndGlyphs">LOH</text>
<text x="584.4" y="749.3" textLength="17.1" lengthAdjust="spacingAndGlyphs">BRI</text>
<text x="621.4" y="750" textLength="23.7" lengthAdjust="spacingAndGlyphs">PAH</text>
<text x="584.5" y="766.9" textLength="22.2" lengthAdjust="spacingAndGlyphs">BUT</text>
<text x="621.3" y="767.6" textLength="21.9" lengthAdjust="spacingAndGlyphs">PAT</text>
<text x="584.5" y="784.1" textLength="23.2" lengthAdjust="spacingAndGlyphs">DDP</text>
<text x="621.3" y="784.8" textLength="21.9" lengthAdjust="spacingAndGlyphs">TAP</text>
<text x="584.5" y="802" textLength="22.2" lengthAdjust="spacingAndGlyphs">KAC</text>
<text x="621.3" y="802.4" textLength="21.9" lengthAdjust="spacingAndGlyphs">TED</text>
<text x="584.5" y="819.2" textLength="26.9" lengthAdjust="spacingAndGlyphs">KAM</text>
<text x="621.3" y="820.1" textLength="23.0" lengthAdjust="spacingAndGlyphs">THA</text>
<text x="592" y="853.6" textLength="12.9" lengthAdjust="spacingAndGlyphs">NJ</text>
<text x="617" y="854" textLength="13.3" lengthAdjust="spacingAndGlyphs">JN</text>
<text x="592" y="871.3" textLength="16.8" lengthAdjust="spacingAndGlyphs">QG</text>
<text x="617.4" y="871.3" textLength="12.5" lengthAdjust="spacingAndGlyphs">LP</text>
<text x="592" y="888.9" textLength="14.7" lengthAdjust="spacingAndGlyphs">AC</text>
<text x="617" y="888.9" textLength="14.4" lengthAdjust="spacingAndGlyphs">GF</text>
</g>
<g fill="#8c8c8c"><circle cx="158.6" cy="674.6" r="0.6"/><circle cx="284.6" cy="639.8" r="0.6"/><circle cx="300.3" cy="825.9" r="0.6"/></g>
</svg>
</body></html>
